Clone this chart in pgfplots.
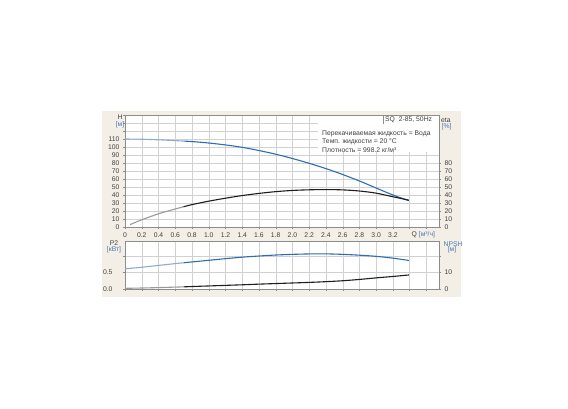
\documentclass[border=0pt]{standalone}
\usepackage{fontspec}
\setmainfont{Liberation Sans}
\usepackage{pgfplots}
\pgfplotsset{compat=1.18}
\definecolor{beige}{HTML}{F3EFE6}
\definecolor{cblue}{HTML}{2E6DB4}
\definecolor{lblue}{HTML}{8CAAD4}
\definecolor{cgray}{HTML}{9A9A9A}
\definecolor{cblack}{HTML}{1E1E1E}
\definecolor{tgray}{HTML}{404040}
\definecolor{ublue}{HTML}{4A78B0}
\definecolor{framec}{HTML}{8C8C8C}
\newcommand{\fs}{\fontsize{6.8}{7.5}\selectfont}
\pgfplotsset{
  base/.style={scale only axis, width=314pt, xmin=0, xmax=3.75,
    tick label style={font=\fs, text=tgray},
    /pgf/number format/assume math mode=true,
    tick align=outside, major tick length=2pt,
    tick style={framec, line width=0.4pt},
    axis line style={framec, line width=0.5pt}},
  main/.style={base, axis background/.style={fill=white},
    grid=major, major grid style={black!18, line width=0.4pt},
    xtick={0,0.2,0.4,0.6,0.8,1,1.2,1.4,1.6,1.8,2,2.2,2.4,2.6,2.8,3,3.2,3.4,3.6},
    xtick pos=bottom, ytick pos=left},
  sec/.style={base, axis x line=none, axis y line*=right, ytick pos=right},
}
\begin{document}
\begin{tikzpicture}[x=1pt,y=1pt]
\fill[white] (0,0) rectangle (568,408);
\fill[beige] (102,111) rectangle (461,297);

% ---------- top plot: H and eta ----------
\begin{axis}[main, at={(125pt,181pt)}, anchor=south west, height=112pt,
  ymin=0, ymax=140,
  xticklabels={0,0.2,0.4,0.6,0.8,1.0,1.2,1.4,1.6,1.8,2.0,2.2,2.4,2.6,2.8,3.0,3.2,,},
  ytick={0,10,20,30,40,50,60,70,80,90,100,110,120,130,140},
  yticklabels={0,10,20,30,40,50,60,70,80,90,100,110,,,}]
\addplot[lblue, line width=1.1pt, smooth] coordinates {
(0,110) (0.2,109.7) (0.4,109) (0.6,108) (0.7,107.4)};
\addplot[cblue, line width=1.1pt, smooth] coordinates {
(0.7,107.4) (0.8,106.8) (1.0,105) (1.2,102.6) (1.4,99.6) (1.6,95.6) (1.8,91)
(2.0,85.6) (2.2,79.6) (2.4,73) (2.6,65.6) (2.8,57.5) (3.0,48.7) (3.2,40) (3.39,33)};
\end{axis}
\begin{axis}[sec, at={(125pt,181pt)}, anchor=south west, height=112pt,
  ymin=0, ymax=140, ytick={0,10,20,30,40,50,60,70,80}]
\addplot[cgray, line width=1.1pt, smooth] coordinates {
(0.06,3) (0.2,9) (0.4,16.5) (0.6,22.5) (0.7,25.3)};
\addplot[cblack, line width=1.1pt, smooth] coordinates {
(0.7,25.3) (0.8,28) (1.0,32.3) (1.2,36) (1.4,39.3) (1.6,42) (1.8,44.2) (2.0,45.7)
(2.2,46.5) (2.4,46.8) (2.6,46.4) (2.8,45) (3.0,42.3) (3.2,37.8) (3.39,33.5)};
\end{axis}

% ---------- bottom plot: P2 and NPSH ----------
\begin{axis}[main, at={(125pt,119pt)}, anchor=south west, height=48pt,
  ymin=0, ymax=1.455, xticklabels={},
  ytick={0,0.5,1}, yticklabels={0.0,0.5,},
  yticklabel style={xshift=-7pt}]
\addplot[lblue, line width=1.1pt, smooth] coordinates {
(0,0.61) (0.2,0.66) (0.4,0.715) (0.6,0.77) (0.7,0.795)};
\addplot[cblue, line width=1.1pt, smooth] coordinates {
(0.7,0.795) (0.8,0.82) (1.0,0.87) (1.2,0.92) (1.4,0.965) (1.6,1.0) (1.8,1.03)
(2.0,1.05) (2.2,1.063) (2.4,1.065) (2.6,1.05) (2.8,1.025) (3.0,0.99) (3.2,0.935) (3.39,0.865)};
\end{axis}
\begin{axis}[sec, at={(125pt,119pt)}, anchor=south west, height=48pt,
  ymin=0, ymax=29.1, ytick={0,10,20}, yticklabels={0,10,}]
\addplot[cgray, line width=1.1pt, smooth] coordinates {
(0,0.4) (0.2,0.6) (0.4,0.85) (0.6,1.15) (0.7,1.3)};
\addplot[cblack, line width=1.1pt, smooth] coordinates {
(0.7,1.3) (0.8,1.5) (1.0,1.85) (1.2,2.2) (1.4,2.55) (1.6,2.95) (1.8,3.3) (2.0,3.65)
(2.2,4.0) (2.4,4.45) (2.6,5.0) (2.8,5.8) (3.0,6.75) (3.2,7.6) (3.39,8.5)};
\end{axis}

% ---------- info box ----------
\fill[white] (318,256) rectangle (438.6,292.6);
\draw[framec, line width=0.5pt] (318,293) -- (439,293) -- (439,255);
\draw[framec, line width=0.5pt] (383,293) -- (383,284);
\node[anchor=west, inner sep=0, font=\fs, text=tgray] at (385,288.3) {SQ\ \ 2-85, 50Hz};
\node[anchor=west, inner sep=0, font=\fs, text=tgray] at (322,274) {Перекачиваемая жидкость = Вода};
\node[anchor=west, inner sep=0, font=\fs, text=tgray] at (322,265.7) {Темп. жидкости = 20 °C};
\node[anchor=west, inner sep=0, font=\fs, text=tgray] at (322,258) {Плотность = 998.2 кг/м³};

% ---------- axis labels ----------
\node[inner sep=0, font=\fs, text=tgray] at (120,290.5) {H};
\node[inner sep=0, font=\fs, text=ublue] at (120,283) {[м]};
\node[anchor=west, inner sep=0, font=\fs, text=tgray] at (441,288) {eta};
\node[anchor=west, inner sep=0, font=\fs, text=ublue] at (441.5,281.3) {[\%]};
\node[anchor=west, inner sep=0, font=\fs, text=tgray] at (411.5,173.5) {Q \textcolor{ublue}{[м³/ч]}};
\node[inner sep=0, font=\fs, text=tgray] at (114,164.7) {P2};
\node[inner sep=0, font=\fs, text=ublue] at (114,158) {[кВт]};
\node[anchor=west, inner sep=0, font=\fs, text=ublue] at (443.5,164) {NPSH};
\node[inner sep=0, font=\fs, text=ublue] at (452,158) {[м]};
\end{tikzpicture}
\end{document}
